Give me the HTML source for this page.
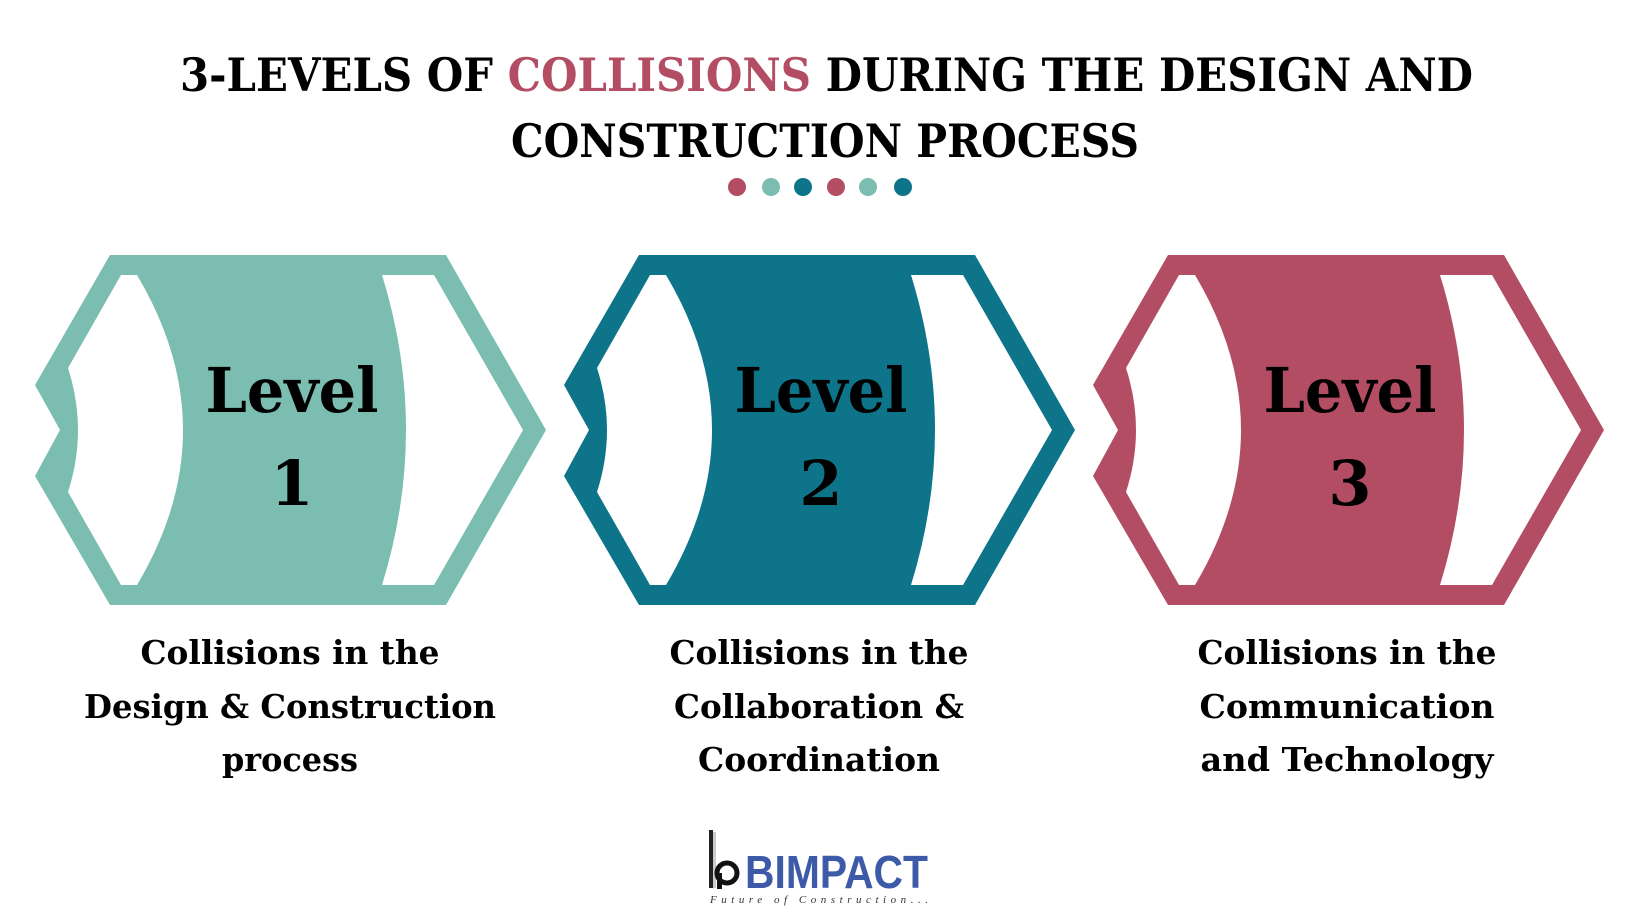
<!DOCTYPE html>
<html><head><meta charset="utf-8"><style>
html,body{margin:0;padding:0;background:#fff;}
svg{display:block;}
text{font-family:"DejaVu Serif","Liberation Serif",serif;font-weight:bold;}
</style></head><body>
<svg width="1640" height="924" viewBox="0 0 1640 924" xmlns="http://www.w3.org/2000/svg">
<rect width="1640" height="924" fill="#fff"/>
<text x="180" y="91" font-size="46" textLength="1293" lengthAdjust="spacingAndGlyphs" fill="#000">3-LEVELS OF <tspan fill="#b34d63">COLLISIONS</tspan> DURING THE DESIGN AND</text>
<text x="511" y="157" font-size="46" textLength="628" lengthAdjust="spacingAndGlyphs" fill="#000">CONSTRUCTION PROCESS</text>
<g>
<circle cx="737" cy="187" r="9" fill="#b34d63"/>
<circle cx="771" cy="187" r="9" fill="#7bbdb0"/>
<circle cx="803" cy="187" r="9" fill="#0e7489"/>
<circle cx="836" cy="187" r="9" fill="#b34d63"/>
<circle cx="868" cy="187" r="9" fill="#7bbdb0"/>
<circle cx="903" cy="187" r="9" fill="#0e7489"/>
</g>
<defs>
<g id="hexw">
<path d="M121,275 L137,275 Q229,430 137,585 L121,585 L68,492 Q88,430 68,368 Z" fill="#fff"/>
<path d="M382,275 L434,275 L523,430 L434,585 L382,585 Q430,430 382,275 Z" fill="#fff"/>
</g>
</defs>
<g>
<path d="M110,255 L446,255 L546,430 L446,605 L110,605 L35,476 L60,430 L35,385 Z" fill="#7bbdb0"/>
<use href="#hexw"/>
<text x="292" y="412" font-size="62" text-anchor="middle" textLength="173" lengthAdjust="spacingAndGlyphs">Level</text>
<text x="292" y="505" font-size="62" text-anchor="middle">1</text>
</g>
<g transform="translate(529,0)">
<path d="M110,255 L446,255 L546,430 L446,605 L110,605 L35,476 L60,430 L35,385 Z" fill="#0e7489"/>
<use href="#hexw"/>
<text x="292" y="412" font-size="62" text-anchor="middle" textLength="173" lengthAdjust="spacingAndGlyphs">Level</text>
<text x="292" y="505" font-size="62" text-anchor="middle">2</text>
</g>
<g transform="translate(1058,0)">
<path d="M110,255 L446,255 L546,430 L446,605 L110,605 L35,476 L60,430 L35,385 Z" fill="#b34d63"/>
<use href="#hexw"/>
<text x="292" y="412" font-size="62" text-anchor="middle" textLength="173" lengthAdjust="spacingAndGlyphs">Level</text>
<text x="292" y="505" font-size="62" text-anchor="middle">3</text>
</g>
<g font-size="33" text-anchor="middle" fill="#000">
<text x="290" y="664" textLength="299" lengthAdjust="spacingAndGlyphs">Collisions in the</text>
<text x="290" y="718" textLength="412" lengthAdjust="spacingAndGlyphs">Design &amp; Construction</text>
<text x="290" y="771" textLength="136" lengthAdjust="spacingAndGlyphs">process</text>
<text x="819" y="664" textLength="299" lengthAdjust="spacingAndGlyphs">Collisions in the</text>
<text x="819" y="718" textLength="290" lengthAdjust="spacingAndGlyphs">Collaboration &amp;</text>
<text x="819" y="771" textLength="242" lengthAdjust="spacingAndGlyphs">Coordination</text>
<text x="1347" y="664" textLength="299" lengthAdjust="spacingAndGlyphs">Collisions in the</text>
<text x="1347" y="718" textLength="295" lengthAdjust="spacingAndGlyphs">Communication</text>
<text x="1347" y="771" textLength="293" lengthAdjust="spacingAndGlyphs">and Technology</text>
</g>
<g>
<rect x="709" y="830" width="4" height="58" fill="#222"/>
<rect x="713" y="832" width="3" height="56" fill="#ccc"/>
<circle cx="727" cy="873" r="10" fill="none" stroke="#111" stroke-width="5"/>
<rect x="717" y="873" width="5" height="16" fill="#111"/>
<text x="745" y="888" font-size="46" font-weight="bold" fill="#3d5aa8" textLength="183" lengthAdjust="spacingAndGlyphs" style="font-family:'Liberation Sans',sans-serif">BIMPACT</text>
<text x="710" y="903" font-size="11" font-style="italic" fill="#333" textLength="218" lengthAdjust="spacing" style="font-family:'Liberation Serif',serif;font-weight:normal">Future of Construction...</text>
</g>
</svg>
</body></html>
